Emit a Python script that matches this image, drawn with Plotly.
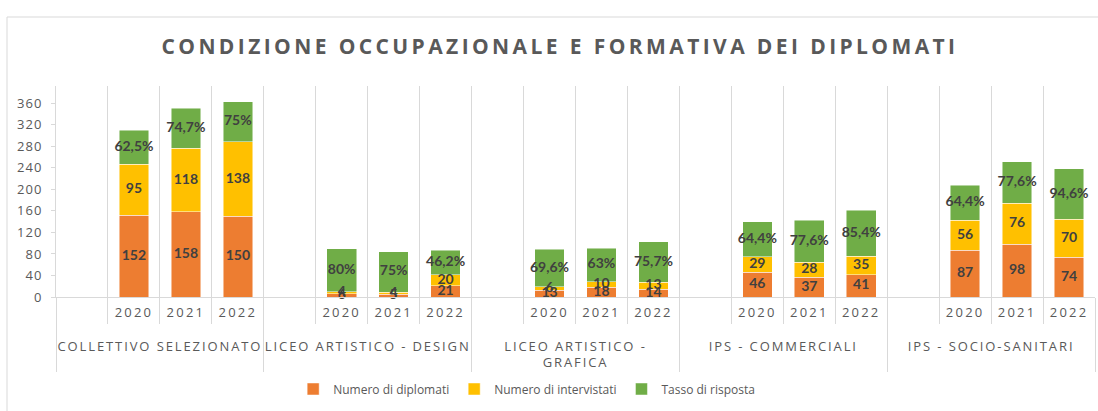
import plotly.graph_objects as go

# ---- data -------------------------------------------------------------
groups = [
    "COLLETTIVO SELEZIONATO",
    "LICEO ARTISTICO - DESIGN",
    "LICEO ARTISTICO -<br>GRAFICA",
    "IPS - COMMERCIALI",
    "IPS - SOCIO-SANITARI",
]
years = ["2020", "2021", "2022"]

diplomati = [152, 158, 150, 6, 5, 21, 13, 18, 14, 46, 37, 41, 87, 98, 74]
intervistati = [95, 118, 138, 4, 4, 20, 6, 10, 13, 29, 28, 35, 56, 76, 70]
tasso = [62.5, 74.7, 75, 80, 75, 46.2, 69.6, 63, 75.7, 64.4, 77.6, 85.4, 64.4, 77.6, 94.6]

y_ticks = [0, 40, 80, 120, 160, 200, 240, 280, 320, 360]

series_names = ["Numero di diplomati", "Numero di intervistati", "Tasso di risposta"]
colors = ["#ED7D31", "#FFC000", "#70AD47"]


def tracked(s, px):
    """Wrap a label in a letter-spaced span (each line separately)."""
    return "<br>".join(
        f'<span style="letter-spacing:{px}px">{part}</span>' for part in s.split("<br>")
    )


# ---- category slots: an empty leading slot in each group ----------------
SPACER = " "
group_lbl = [tracked(g, 1.9) for g in groups]
# trailing empty line gives the year row some extra depth
year_lbl = [tracked(y, 2.2) + "<br> " for y in years]

slot_outer, slot_inner = [], []
for g in group_lbl:
    for y in [SPACER] + year_lbl:
        slot_outer.append(g)
        slot_inner.append(y)


def spread(values):
    """Place one value per (group, year); the spacer slot stays empty."""
    out, k = [], 0
    for y in slot_inner:
        if y == SPACER:
            out.append(None)
        else:
            out.append(values[k])
            k += 1
    return out


data_outer = [g for g in group_lbl for _ in years]
data_inner = [y for _ in group_lbl for y in year_lbl]


def fmt_pct(v):
    return f"{v:g}".replace(".", ",") + "%"


label_font = dict(family="Lato, Open Sans, sans-serif", size=14, color="#404040", weight="bold")
grey = "#595959"
rule = "#D9D9D9"

fig = go.Figure()

series = [diplomati, intervistati, tasso]
for name, vals, col in zip(series_names, series, colors):
    fig.add_trace(go.Bar(
        x=[slot_outer, slot_inner],
        y=spread(vals),
        name=name,
        marker=dict(color=col, line=dict(color="rgba(255,255,255,0.6)", width=0.8)),
        hoverinfo="skip",
    ))

# data labels centred in each stacked segment
base = [0] * len(diplomati)
texts = [
    [str(v) for v in diplomati],
    [str(v) for v in intervistati],
    [fmt_pct(v) for v in tasso],
]
for vals, txt in zip(series, texts):
    mids = [b + v / 2 for b, v in zip(base, vals)]
    fig.add_trace(go.Scatter(
        x=[data_outer, data_inner],
        y=mids,
        mode="text",
        text=txt,
        textposition="middle center",
        textfont=label_font,
        showlegend=False,
        hoverinfo="skip",
        cliponaxis=False,
    ))
    base = [b + v for b, v in zip(base, vals)]

n_slots = len(slot_inner)

fig.update_layout(
    width=1098,
    height=411,
    margin=dict(l=56, r=3, t=86, b=114),
    paper_bgcolor="white",
    plot_bgcolor="white",
    barmode="stack",
    bargap=0.43,
    title=dict(
        text=tracked("CONDIZIONE OCCUPAZIONALE E FORMATIVA DEI DIPLOMATI", 3.4),
        font=dict(family="Open Sans, sans-serif", size=21, color=grey, weight="bold"),
        x=0.51, xref="container", xanchor="center",
        y=1 - 47 / 411, yref="container", yanchor="middle",
    ),
    legend=dict(
        orientation="h",
        x=0.453, xanchor="center",
        y=-0.436, yanchor="middle",
        font=dict(family="Open Sans, sans-serif", size=12, color=grey),
        itemwidth=30,
        traceorder="normal",
    ),
    xaxis=dict(
        type="multicategory",
        range=[-0.5, n_slots - 0.5],
        tickson="boundaries",
        showgrid=True,
        gridcolor=rule,
        gridwidth=1,
        showline=True,
        linecolor=rule,
        ticks="outside",
        ticklen=26,
        tickcolor=rule,
        ticklabelstandoff=3,
        showdividers=True,
        dividercolor=rule,
        dividerwidth=1,
        tickfont=dict(family="Open Sans, sans-serif", size=13, color=grey),
    ),
    yaxis=dict(
        range=[0, 392],
        tickmode="array",
        tickvals=y_ticks,
        ticktext=[tracked(str(t), 1) for t in y_ticks],
        showgrid=False,
        zeroline=False,
        showline=True,
        linecolor=rule,
        ticks="outside",
        ticklen=4,
        tickcolor=rule,
        ticklabelstandoff=6,
        tickfont=dict(family="Open Sans, sans-serif", size=13, color=grey),
    ),
    shapes=[
        dict(type="rect", xref="paper", yref="paper",
             x0=(7 - 56) / 1039, x1=1.01, y0=-0.6, y1=1 + (86 - 17) / 211,
             line=dict(color=rule, width=1), fillcolor="rgba(0,0,0,0)", layer="below"),
    ],
)

fig.write_html("out.html")
